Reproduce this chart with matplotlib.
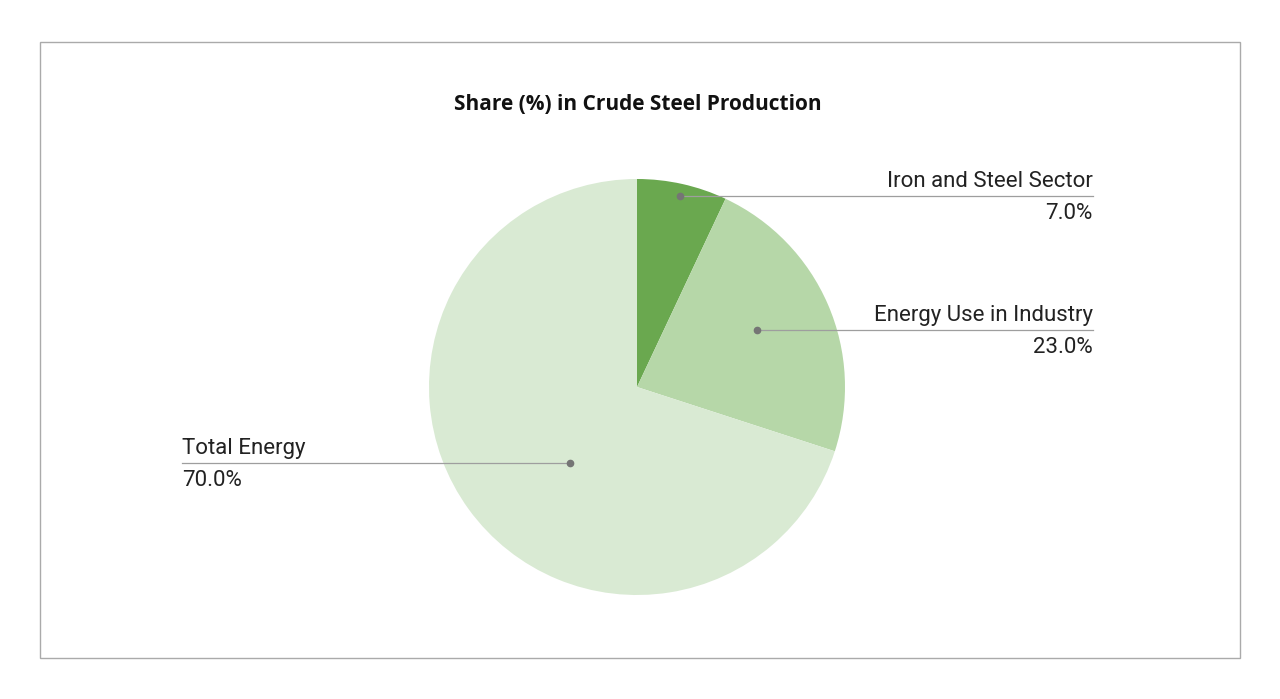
import numpy as np
import matplotlib.pyplot as plt
from matplotlib.patches import Rectangle

labels = ['Iron and Steel Sector', 'Energy Use in Industry', 'Total Energy']
shares = [7.0, 23.0, 70.0]
colors = ['#6aa84f', '#b6d7a8', '#d9ead3']

# leader dot: position across the slice (0..1) and distance as fraction of radius
dot_pos = [0.506, 0.478, 0.45]
dot_frac = [0.94, 0.64, 0.49]
side = ['right', 'right', 'left']

W, H = 1280, 699
fig = plt.figure(figsize=(W / 100, H / 100), dpi=100)
ax = fig.add_axes([0, 0, 1, 1])

plt.rcParams['font.family'] = ['Roboto', 'DejaVu Sans']

# frame around the chart
ax.add_patch(Rectangle((40, H - 658), 1200, 616, fill=False, ec='#aaaaaa', lw=1))

cx, cy, r = 637, H - 387, 208
wedges, _ = ax.pie(shares, colors=colors, startangle=90, counterclock=False,
                   center=(cx, cy), radius=r, frame=True,
                   wedgeprops=dict(linewidth=0))
ax.set_xlim(0, W)
ax.set_ylim(0, H)
ax.set_aspect('equal')
ax.axis('off')

ax.text(W / 2 - 2, H - 104, 'Share (%) in Crude Steel Production', ha='center', va='center',
        fontsize=15, fontweight='bold', color='#111111', family=['Open Sans', 'DejaVu Sans'])

for w, lab, val, p, f, s in zip(wedges, labels, shares, dot_pos, dot_frac, side):
    # clockwise wedges: theta2 is the start, theta1 the end
    ang = np.deg2rad(w.theta2 + p * (w.theta1 - w.theta2))
    dx = cx + f * r * np.cos(ang)
    dy = cy + f * r * np.sin(ang)
    if s == 'right':
        x_end, ha = 1093, 'right'
    else:
        x_end, ha = 182, 'left'
    ax.plot([dx, x_end], [dy, dy], color='#9e9e9e', lw=0.9, zorder=3)
    ax.plot(dx, dy, 'o', color='#757575', ms=4.5, zorder=4)
    ax.text(x_end, dy + 4, lab, ha=ha, va='bottom', fontsize=16, color='#222222')
    ax.text(x_end, dy - 7, f'{val:.1f}%', ha=ha, va='top', fontsize=16, color='#222222')

fig.savefig('out.png', dpi=100, facecolor='white')
